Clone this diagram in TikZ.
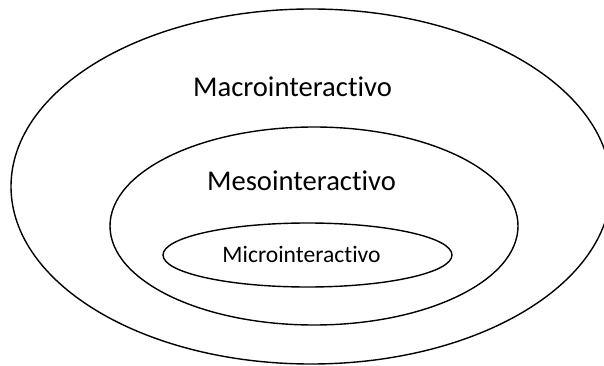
\documentclass[tikz,border=0pt]{standalone}
\usepackage{fontspec}
\setmainfont{Carlito}[Ligatures={NoCommon,NoContextual}]
\begin{document}
\begin{tikzpicture}[x=1pt,y=-1pt,
  ring/.style={draw=black,line width=1.4pt},
  bigtext/.style={anchor=base,inner sep=0pt,font=\fontsize{28.6}{30}\selectfont},
  smalltext/.style={anchor=base,inner sep=0pt,font=\fontsize{23.6}{26}\selectfont}]
\useasboundingbox (0,0) rectangle (604,366);
\clip (0,0) rectangle (604,366);
\draw[ring] (311,186.5) ellipse [x radius=300pt, y radius=177.5pt];
\draw[ring] (314,226) ellipse [x radius=204pt, y radius=99pt];
\draw[ring] (307.5,255) ellipse [x radius=144.5pt, y radius=32pt];
\node[bigtext] (macro) at (292.5,97) {Macrointeractivo};
\node[bigtext] (meso) at (301.5,190) {Mesointeractivo};
\node[smalltext] (micro) at (301.5,262) {Microinteractivo};
\end{tikzpicture}
\end{document}
